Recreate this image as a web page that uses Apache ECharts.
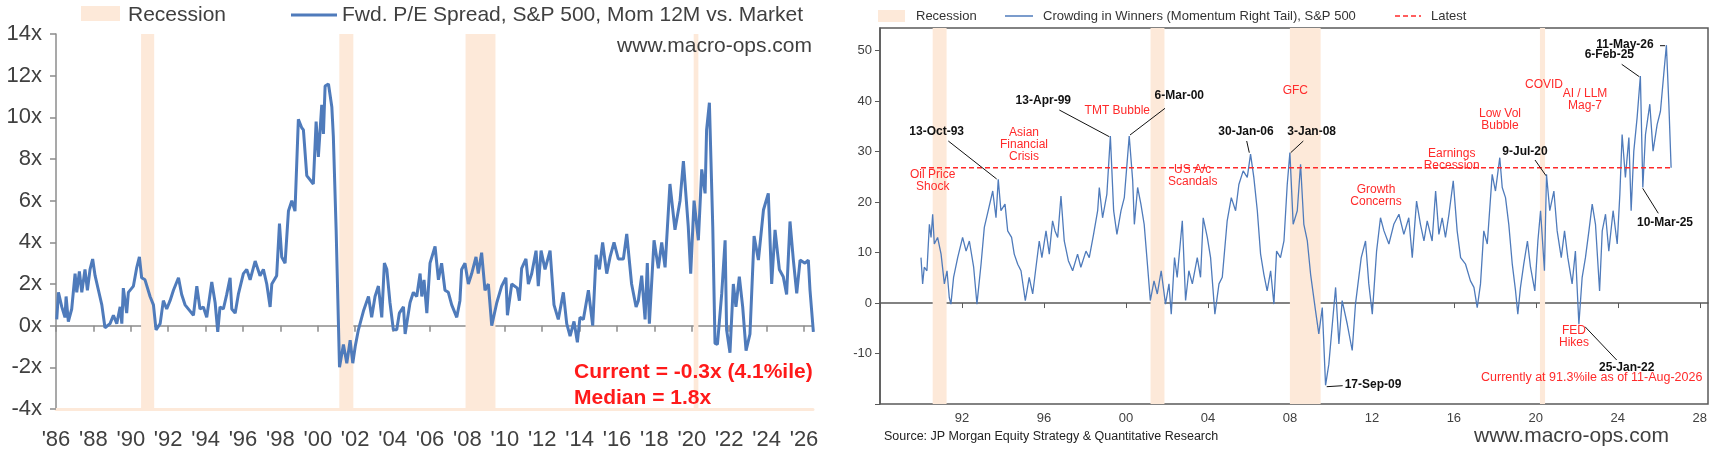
<!DOCTYPE html>
<html><head><meta charset="utf-8">
<script src="https://cdn.jsdelivr.net/npm/echarts@6/dist/echarts.min.js"></script>
<style>html,body{margin:0;padding:0;background:#fff}#c{width:1712px;height:451px}</style>
</head><body><div id="c"></div>
<script>
// ---- Left chart: Fwd P/E spread (year, value x)
const leftYears = [1986.04,1986.13,1986.31,1986.48,1986.54,1986.66,1986.84,1987.02,1987.11,1987.25,1987.38,1987.55,1987.68,1987.82,1987.96,1988.09,1988.27,1988.45,1988.62,1988.89,1989.07,1989.25,1989.43,1989.52,1989.60,1989.78,1989.87,1990.14,1990.32,1990.46,1990.58,1990.76,1991.03,1991.21,1991.35,1991.57,1991.74,1991.92,1992.10,1992.28,1992.55,1992.72,1992.90,1993.17,1993.35,1993.53,1993.70,1993.88,1994.06,1994.33,1994.51,1994.65,1994.77,1994.95,1995.13,1995.31,1995.40,1995.58,1995.75,1996.02,1996.20,1996.38,1996.65,1996.91,1997.09,1997.27,1997.45,1997.54,1997.80,1997.95,1998.07,1998.25,1998.43,1998.61,1998.78,1998.96,1999.14,1999.23,1999.41,1999.76,1999.91,2000.03,2000.21,2000.30,2000.39,2000.57,2000.75,2000.83,2000.98,2001.16,2001.37,2001.55,2001.73,2001.87,2002.0,2002.17,2002.44,2002.71,2002.88,2003.06,2003.24,2003.42,2003.56,2003.69,2003.86,2004.04,2004.22,2004.36,2004.58,2004.67,2004.93,2005.11,2005.29,2005.47,2005.56,2005.68,2005.83,2006.0,2006.27,2006.45,2006.62,2006.80,2006.98,2007.16,2007.43,2007.60,2007.69,2007.87,2008.05,2008.23,2008.46,2008.58,2008.76,2008.94,2009.12,2009.30,2009.57,2009.83,2010.06,2010.14,2010.37,2010.67,2010.78,2010.90,2011.13,2011.26,2011.44,2011.67,2011.79,2011.94,2012.15,2012.42,2012.63,2012.86,2013.13,2013.31,2013.49,2013.70,2013.88,2014.02,2014.20,2014.47,2014.70,2014.88,2015.06,2015.23,2015.45,2015.63,2015.84,2016.07,2016.34,2016.52,2016.78,2017.02,2017.14,2017.32,2017.50,2017.62,2017.73,2017.98,2018.21,2018.39,2018.57,2018.83,2019.10,2019.37,2019.55,2019.81,2019.94,2020.12,2020.35,2020.53,2020.71,2020.79,2020.94,2021.12,2021.24,2021.37,2021.60,2021.78,2021.86,2022.04,2022.22,2022.36,2022.54,2022.72,2022.90,2023.11,2023.33,2023.56,2023.83,2024.09,2024.27,2024.45,2024.68,2024.89,2025.07,2025.25,2025.43,2025.61,2025.79,2026.05,2026.23,2026.32,2026.50];
const leftValues = [0.3,1.6,0.9,0.4,1.4,0.2,0.8,2.5,1.6,2.6,1.6,2.7,1.7,2.7,3.2,2.4,1.7,1.0,-0.1,0.1,0.5,0.1,0.9,0.1,1.8,0.6,1.6,1.9,2.8,3.3,2.3,2.2,1.4,1.0,-0.2,0.1,1.2,0.8,1.2,1.7,2.3,1.5,1.0,0.7,0.5,1.9,0.8,0.9,0.4,2.1,1.1,-0.3,0.9,0.8,1.5,2.3,0.8,0.6,1.5,2.5,2.7,2.2,3.1,2.4,2.7,2.0,0.9,2.0,2.4,4.9,3.3,3.0,5.5,6.0,5.5,9.9,9.5,9.4,7.2,6.8,9.8,8.1,10.6,9.2,11.5,11.6,10.5,9.1,4.6,-2.0,-0.9,-1.8,-0.7,-1.8,-1.0,-0.2,0.7,1.4,0.4,1.4,1.9,0.4,3.0,2.7,1.1,-0.2,-0.2,0.6,0.9,-0.4,1.1,1.6,1.4,2.5,1.4,2.2,0.6,3.0,3.8,2.2,3.0,1.7,1.6,1.0,0.4,1.2,2.7,3.0,2.0,2.5,3.3,2.5,3.5,1.7,2.0,0.0,1.1,1.9,2.3,0.5,2.0,1.8,1.2,2.75,3.2,2.0,2.5,3.6,1.9,3.6,2.7,3.6,1.0,0.3,1.6,0.1,-0.5,0.2,-0.8,0.4,0.3,1.7,0.0,3.4,2.7,4.0,2.5,3.3,4.0,3.2,3.2,4.4,2.0,0.9,1.2,2.4,0.3,3.0,0.1,4.1,2.75,4.0,2.8,6.8,4.6,6.0,7.9,4.75,2.5,6.0,4.1,7.5,6.35,9.4,10.7,4.75,-0.85,-0.9,1.55,4.1,-0.2,-1.3,2.0,0.9,2.35,0.9,-1.2,-0.4,4.3,3.15,5.55,6.35,2.0,4.6,2.7,2.35,1.5,5.0,3.15,1.55,3.15,3.0,3.15,1.7,-0.3];
const leftRecStart = [1990.55,2001.15,2007.9,2020.1];
const leftRecEnd   = [1991.25,2001.9,2009.5,2020.35];

// ---- Right chart: Crowding in Winners
const rightYears = [1990.0,1990.08,1990.16,1990.29,1990.41,1990.49,1990.57,1990.65,1990.81,1990.98,1991.14,1991.27,1991.38,1991.46,1991.59,1991.79,1992.03,1992.20,1992.36,1992.57,1992.73,1992.93,1993.09,1993.28,1993.50,1993.66,1993.77,1993.90,1994.10,1994.23,1994.42,1994.55,1994.72,1994.88,1995.09,1995.28,1995.45,1995.61,1995.77,1995.90,1996.10,1996.26,1996.42,1996.54,1996.67,1996.83,1996.99,1997.19,1997.40,1997.64,1997.80,1998.05,1998.21,1998.42,1998.62,1998.70,1998.86,1999.07,1999.24,1999.40,1999.56,1999.76,1999.92,2000.16,2000.33,2000.41,2000.57,2000.73,2000.89,2001.06,2001.19,2001.37,2001.53,2001.72,2001.93,2002.10,2002.21,2002.37,2002.50,2002.75,2002.91,2003.07,2003.24,2003.48,2003.64,2003.77,2003.97,2004.13,2004.34,2004.54,2004.70,2004.94,2005.14,2005.35,2005.51,2005.72,2005.92,2006.08,2006.24,2006.41,2006.57,2006.73,2006.89,2007.06,2007.22,2007.35,2007.54,2007.71,2007.87,2008.0,2008.16,2008.36,2008.52,2008.68,2008.85,2009.01,2009.25,2009.41,2009.58,2009.74,2009.90,2010.07,2010.23,2010.39,2010.55,2010.80,2011.04,2011.20,2011.48,2011.69,2011.85,2012.02,2012.23,2012.42,2012.59,2012.83,2013.07,2013.32,2013.56,2013.80,2013.97,2014.18,2014.37,2014.54,2014.70,2014.94,2015.11,2015.27,2015.43,2015.59,2015.76,2015.97,2016.16,2016.33,2016.57,2016.81,2016.98,2017.14,2017.30,2017.46,2017.63,2017.87,2018.03,2018.24,2018.36,2018.52,2018.68,2018.85,2019.01,2019.12,2019.25,2019.41,2019.59,2019.74,2019.95,2020.10,2020.23,2020.42,2020.52,2020.68,2020.88,2021.04,2021.24,2021.40,2021.56,2021.77,2021.93,2022.10,2022.26,2022.42,2022.59,2022.75,2022.91,2023.11,2023.24,2023.40,2023.56,2023.77,2023.97,2024.10,2024.21,2024.37,2024.54,2024.65,2024.78,2024.94,2025.10,2025.22,2025.35,2025.56,2025.72,2025.92,2026.08,2026.24,2026.37,2026.49,2026.60];
const rightValues = [9.0,3.8,7.1,6.4,15.6,13.0,17.6,11.7,13.0,9.7,3.8,6.4,1.1,-0.2,5.1,9.0,13.0,10.3,12.3,7.1,-0.2,7.7,15.0,18.3,22.2,16.9,24.5,18.3,19.6,14.3,13.0,9.7,7.7,6.4,0.5,5.1,1.8,7.1,12.3,9.0,14.3,9.7,16.3,14.3,13.0,21.2,12.3,8.4,6.4,9.7,7.1,10.3,9.0,13.6,18.3,22.9,16.9,21.6,33.1,18.3,13.6,18.3,20.9,33.1,24.2,15.6,22.9,19.6,15.6,7.1,0.5,4.4,1.8,6.4,-0.2,3.8,-2.2,9.0,5.1,16.3,0.5,6.4,3.8,9.0,5.1,16.9,13.0,9.0,-2.2,3.8,5.1,16.3,20.9,18.3,23.5,26.2,24.9,29.5,24.9,18.3,9.7,5.7,2.4,6.4,-0.2,10.3,9.0,12.3,23.5,29.8,15.6,18.3,27.5,15.6,12.3,5.7,-1.5,-6.1,-0.9,-16.3,-12.1,-4.2,3.1,-8.1,0.5,-4.2,-9.4,-0.2,9.0,12.3,3.8,-2.2,10.3,16.9,14.3,11.7,15.6,17.6,13.6,16.9,9.0,20.2,15.6,12.3,16.3,12.3,22.2,13.6,16.9,13.0,17.6,24.2,14.3,9.0,7.7,4.4,3.1,-0.9,3.8,14.3,11.7,25.5,22.2,28.8,22.9,20.9,15.6,7.7,2.4,-2.2,3.1,7.7,12.3,7.1,2.4,12.3,18.3,6.4,25.5,18.3,22.2,14.3,9.0,14.3,9.0,3.8,10.3,-4.2,5.1,9.0,14.3,19.6,15.6,2.4,14.3,17.6,10.3,18.3,11.7,21.6,33.4,24.9,32.8,18.3,30.1,36.7,45.0,22.9,33.4,39.4,30.1,35.4,38.0,45.3,51.1,39.4,26.8];
const rightRecStart = [1990.57,2001.2,2008.0,2020.2];
const rightRecEnd   = [1991.25,2001.88,2009.5,2020.45];
const latestValue = 26.8;
const latestSpan = [1990.0, 2026.6];

const NARROW = '"Liberation Sans Narrow","Arial Narrow","Liberation Sans",sans-serif';
const SANS = '"Liberation Sans",Arial,sans-serif';
const PEACH = '#fde9d9';
const BLUE = '#4f7bbb';
const RED = '#ff2a2a';

function pairs(xs, ys){ return xs.map((x,i)=>[x, ys[i]]); }
function areas(s,e){ return s.map((v,i)=>[{xAxis:v},{xAxis:e[i]}]); }

const chart = echarts.init(document.getElementById('c'), null, {renderer:'canvas'});

const option = {
  animation:false,
  grid:[
    {left:56, top:34, width:757, height:375},
    {left:880, top:28, width:828, height:376, show:true, borderColor:'#595959', borderWidth:1.5}
  ],
  xAxis:[
    {gridIndex:0, type:'value', min:1986, max:2026.48, interval:2, position:'bottom',
     axisLine:{show:true, onZero:false, lineStyle:{color:PEACH, width:3}}, axisTick:{show:false}, splitLine:{show:false},
     axisLabel:{margin:20, fontFamily:NARROW, fontSize:22, color:'#404040', formatter:v=>"'"+String(v).slice(2), showMaxLabel:false}},
    {gridIndex:0, type:'value', min:1986, max:2026.48, interval:2, position:'bottom',
     axisLine:{show:true, onZero:true, lineStyle:{color:'#8c8c8c', width:1.5}},
     axisTick:{show:true, inside:false, length:6, lineStyle:{color:'#8c8c8c', width:1.5}}, axisLabel:{show:false}, splitLine:{show:false}},
    {gridIndex:1, type:'value', min:1988, max:2028.4, interval:4,
     axisLine:{show:true, lineStyle:{color:'#595959', width:1.5}},
     axisTick:{show:true, length:5, lineStyle:{color:'#595959'}}, splitLine:{show:false},
     axisLabel:{fontFamily:SANS, fontSize:13, color:'#404040', margin:8, showMaxLabel:false, formatter:v=> v===1988 ? '' : String(v).slice(2)}}
  ],
  yAxis:[
    {gridIndex:0, type:'value', min:-4, max:14, interval:2,
     axisLine:{show:true, lineStyle:{color:'#8c8c8c', width:1.5}}, axisTick:{show:true, length:6, lineStyle:{color:'#8c8c8c', width:1.5}},
     splitLine:{show:false}, axisLabel:{fontFamily:NARROW, fontSize:22, color:'#404040', margin:14, formatter:v=>v+'x'}},
    {gridIndex:1, type:'value', min:-20, max:54.5, interval:10,
     axisLine:{show:true, lineStyle:{color:'#595959', width:1.5}}, axisTick:{show:true, length:5, lineStyle:{color:'#595959'}},
     splitLine:{show:false}, axisLabel:{fontFamily:SANS, fontSize:13, color:'#404040', margin:8, showMaxLabel:false, formatter:v=> v===-20 ? '' : String(v)}}
  ],
  series:[
    {type:'line', xAxisIndex:1, yAxisIndex:0, data:pairs(leftYears,leftValues), showSymbol:false, z:3,
     lineStyle:{color:BLUE, width:3}, markArea:{silent:true, itemStyle:{color:PEACH}, data:areas(leftRecStart,leftRecEnd)}},
    {type:'line', xAxisIndex:2, yAxisIndex:1, data:pairs(rightYears,rightValues), showSymbol:false, z:3,
     lineStyle:{color:BLUE, width:1.3}, markArea:{silent:true, itemStyle:{color:PEACH}, data:areas(rightRecStart,rightRecEnd)}},
    {type:'line', xAxisIndex:2, yAxisIndex:1, data:[[latestSpan[0],latestValue],[latestSpan[1],latestValue]], showSymbol:false, z:4,
     lineStyle:{color:RED, width:1.5, type:[5,3]}}
  ]
};

function txt(x,y,t,o){ return {type:'text', x:x, y:y, z:100, style:Object.assign({text:t, fill:'#111', font:'bold 12px '+SANS, align:'center', verticalAlign:'middle', lineHeight:12}, o||{})}; }
function ln(x1,y1,x2,y2,c,w){ return {type:'line', z:100, shape:{x1:x1,y1:y1,x2:x2,y2:y2}, style:{stroke:c||'#111', lineWidth:w||1}}; }
const redStyle = {fill:RED, font:'12px '+SANS, lineHeight:12};
option.graphic = [
  {type:'rect', shape:{x:81,y:6,width:39,height:15}, style:{fill:PEACH}},
  txt(128,15,'Recession',{fill:'#404040', font:'21px '+NARROW, align:'left'}),
  ln(291,15,337,15,BLUE,3),
  txt(342,15,'Fwd. P/E Spread, S&P 500, Mom 12M vs. Market',{fill:'#404040', font:'21px '+NARROW, align:'left'}),
  txt(812,46,'www.macro-ops.com',{fill:'#404040', font:'21px '+NARROW, align:'right'}),
  txt(574,372,'Current = -0.3x (4.1%ile)',{fill:'#ff1a1a', font:'bold 21px '+NARROW, align:'left'}),
  txt(574,398,'Median = 1.8x',{fill:'#ff1a1a', font:'bold 21px '+NARROW, align:'left'}),
  {type:'rect', shape:{x:878,y:10,width:27,height:12}, style:{fill:PEACH}},
  txt(916,16,'Recession',{fill:'#333', font:'13px '+SANS, align:'left'}),
  ln(1005,16,1033,16,BLUE,1.5),
  txt(1043,16,'Crowding in Winners (Momentum Right Tail), S&P 500',{fill:'#333', font:'13px '+SANS, align:'left'}),
  {type:'line', z:100, shape:{x1:1395,y1:16,x2:1421,y2:16}, style:{stroke:RED, lineWidth:1.5, lineDash:[5,3]}},
  txt(1431,16,'Latest',{fill:'#333', font:'13px '+SANS, align:'left'}),
  txt(884,437,'Source: JP Morgan Equity Strategy & Quantitative Research',{fill:'#222', font:'12.5px '+SANS, align:'left'}),
  txt(1474,436,'www.macro-ops.com',{fill:'#404040', font:'21px '+NARROW, align:'left'}),
  txt(936.7,131.7,'13-Oct-93'), ln(948.3,141,996.7,179),
  txt(1043.3,101,'13-Apr-99'), ln(1059.3,110,1109.3,136.7),
  txt(1179.3,96,'6-Mar-00'), ln(1130,135,1165,108.3),
  txt(1246,131.7,'30-Jan-06'), ln(1246.7,141,1249.3,152.7),
  txt(1311.7,131.7,'3-Jan-08'), ln(1303.3,141,1290.7,152.7),
  txt(1373,385,'17-Sep-09'), ln(1326.7,386.7,1342.7,385.7),
  txt(1525,151.7,'9-Jul-20'), ln(1535,160,1546,175.7),
  txt(1625,45,'11-May-26'), ln(1660,45.7,1665,45.7),
  txt(1609.3,55,'6-Feb-25'), ln(1621.7,64.3,1639.3,76.7),
  txt(1665,222.3,'10-Mar-25'), ln(1642.7,188.3,1658.3,213.3),
  txt(1626.7,367.7,'25-Jan-22'), ln(1585,326.7,1616.7,360),
  txt(1117.3,111,'TMT Bubble',redStyle),
  txt(1024,145,'Asian\nFinancial\nCrisis',redStyle),
  txt(932.7,180.7,'Oil Price\nShock',redStyle),
  txt(1192.7,175.7,'US A/c\nScandals',redStyle),
  txt(1295.3,90.7,'GFC',redStyle),
  txt(1376,195.7,'Growth\nConcerns',redStyle),
  txt(1451.7,160,'Earnings\nRecession',redStyle),
  txt(1500,120,'Low Vol\nBubble',redStyle),
  txt(1544,85,'COVID',redStyle),
  txt(1585,100,'AI / LLM\nMag-7',redStyle),
  txt(1574,336.7,'FED\nHikes',redStyle),
  txt(1591.7,377.7,'Currently at 91.3%ile as of 11-Aug-2026',{fill:RED, font:'12.5px '+SANS})
];
chart.setOption(option);
</script></body></html>
